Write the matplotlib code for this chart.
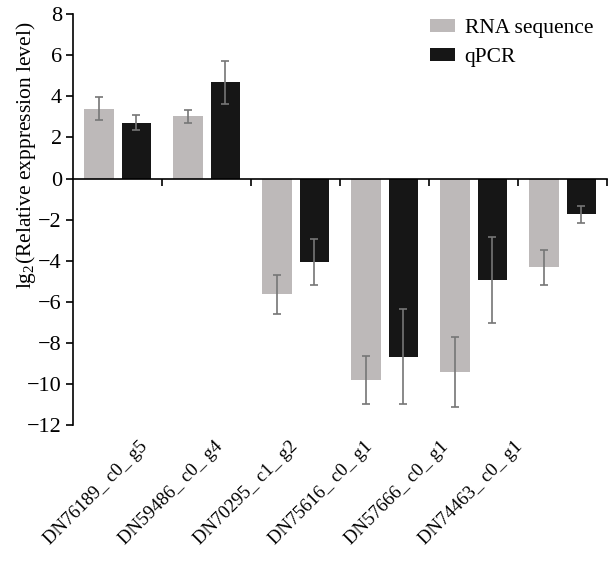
import numpy as np
import matplotlib
matplotlib.use('Agg')
import matplotlib.pyplot as plt

plt.rcParams['font.family'] = ['Liberation Serif', 'DejaVu Serif']
plt.rcParams['mathtext.fontset'] = 'custom'
plt.rcParams['mathtext.rm'] = 'Liberation Serif'

# data
genes = ['DN76189_ c0_ g5', 'DN59486_ c0_ g4', 'DN70295_ c1_ g2',
         'DN75616_ c0_ g1', 'DN57666_ c0_ g1', 'DN74463_ c0_ g1']
rna_seq = [3.4, 3.02, -5.64, -9.78, -9.39, -4.32]
rna_err = [0.55, 0.33, 0.97, 1.17, 1.7, 0.86]
qpcr = [2.72, 4.67, -4.04, -8.66, -4.93, -1.75]
qpcr_err = [0.38, 1.03, 1.12, 2.3, 2.1, 0.4]

fig = plt.figure(figsize=(6.14, 5.61), dpi=100)
ax = fig.add_axes([0.119, 0.242, 0.870, 0.733])

centers = np.arange(len(genes)) + 0.5
w = 0.33
off = 0.21

ekw = dict(ecolor='#767676', elinewidth=1.2, capsize=3, capthick=1.2)
ax.bar(centers - off, rna_seq, w, color='#bdb9b9', yerr=rna_err,
       error_kw=ekw, label='RNA sequence', zorder=2)
ax.bar(centers + off, qpcr, w, color='#161616', yerr=qpcr_err,
       error_kw=ekw, label='qPCR', zorder=2)

ax.set_xlim(0, len(genes))
ax.set_ylim(-12, 8)
ax.set_yticks(np.arange(-12, 9, 2))
ax.set_yticklabels([str(v).replace('-', '\u2212') for v in range(-12, 9, 2)])

# x axis drawn through zero, with group boundary ticks
ax.spines['top'].set_visible(False)
ax.spines['right'].set_visible(False)
ax.spines['bottom'].set_position(('data', 0))
ax.spines['bottom'].set_linewidth(1.2)
ax.spines['left'].set_linewidth(1.2)
ax.spines['bottom'].set_zorder(3)
ax.set_xticks(np.arange(1, len(genes) + 1))
ax.set_xticklabels([])
ax.tick_params(axis='x', direction='out', length=5, width=1.2)
ax.tick_params(axis='y', direction='out', length=5, width=1.2,
               labelsize=16, pad=3)

# gene names along the bottom, a bit compressed like the original
sec = ax.secondary_xaxis(0, functions=(lambda x: (x - 0.32) / 0.843,
                                        lambda x: x * 0.843 + 0.32))
sec.set_xticks(centers)
sec.set_xticklabels(genes, rotation=45, ha='right', va='top',
                    rotation_mode='anchor', fontsize=13.5)
sec.tick_params(length=0, pad=9)
sec.spines['bottom'].set_visible(False)

ax.set_ylabel('lg$_{\\mathrm{2}}$(Relative exppression level)', fontsize=15.5)
ax.yaxis.set_label_coords(-0.066, 0.657)

ax.legend(loc='upper right', bbox_to_anchor=(1.01, 1.035), frameon=False,
          fontsize=15.5, handlelength=1.15, handleheight=0.55,
          handletextpad=0.45, labelspacing=0.45)

fig.savefig('out.png', dpi=100)
